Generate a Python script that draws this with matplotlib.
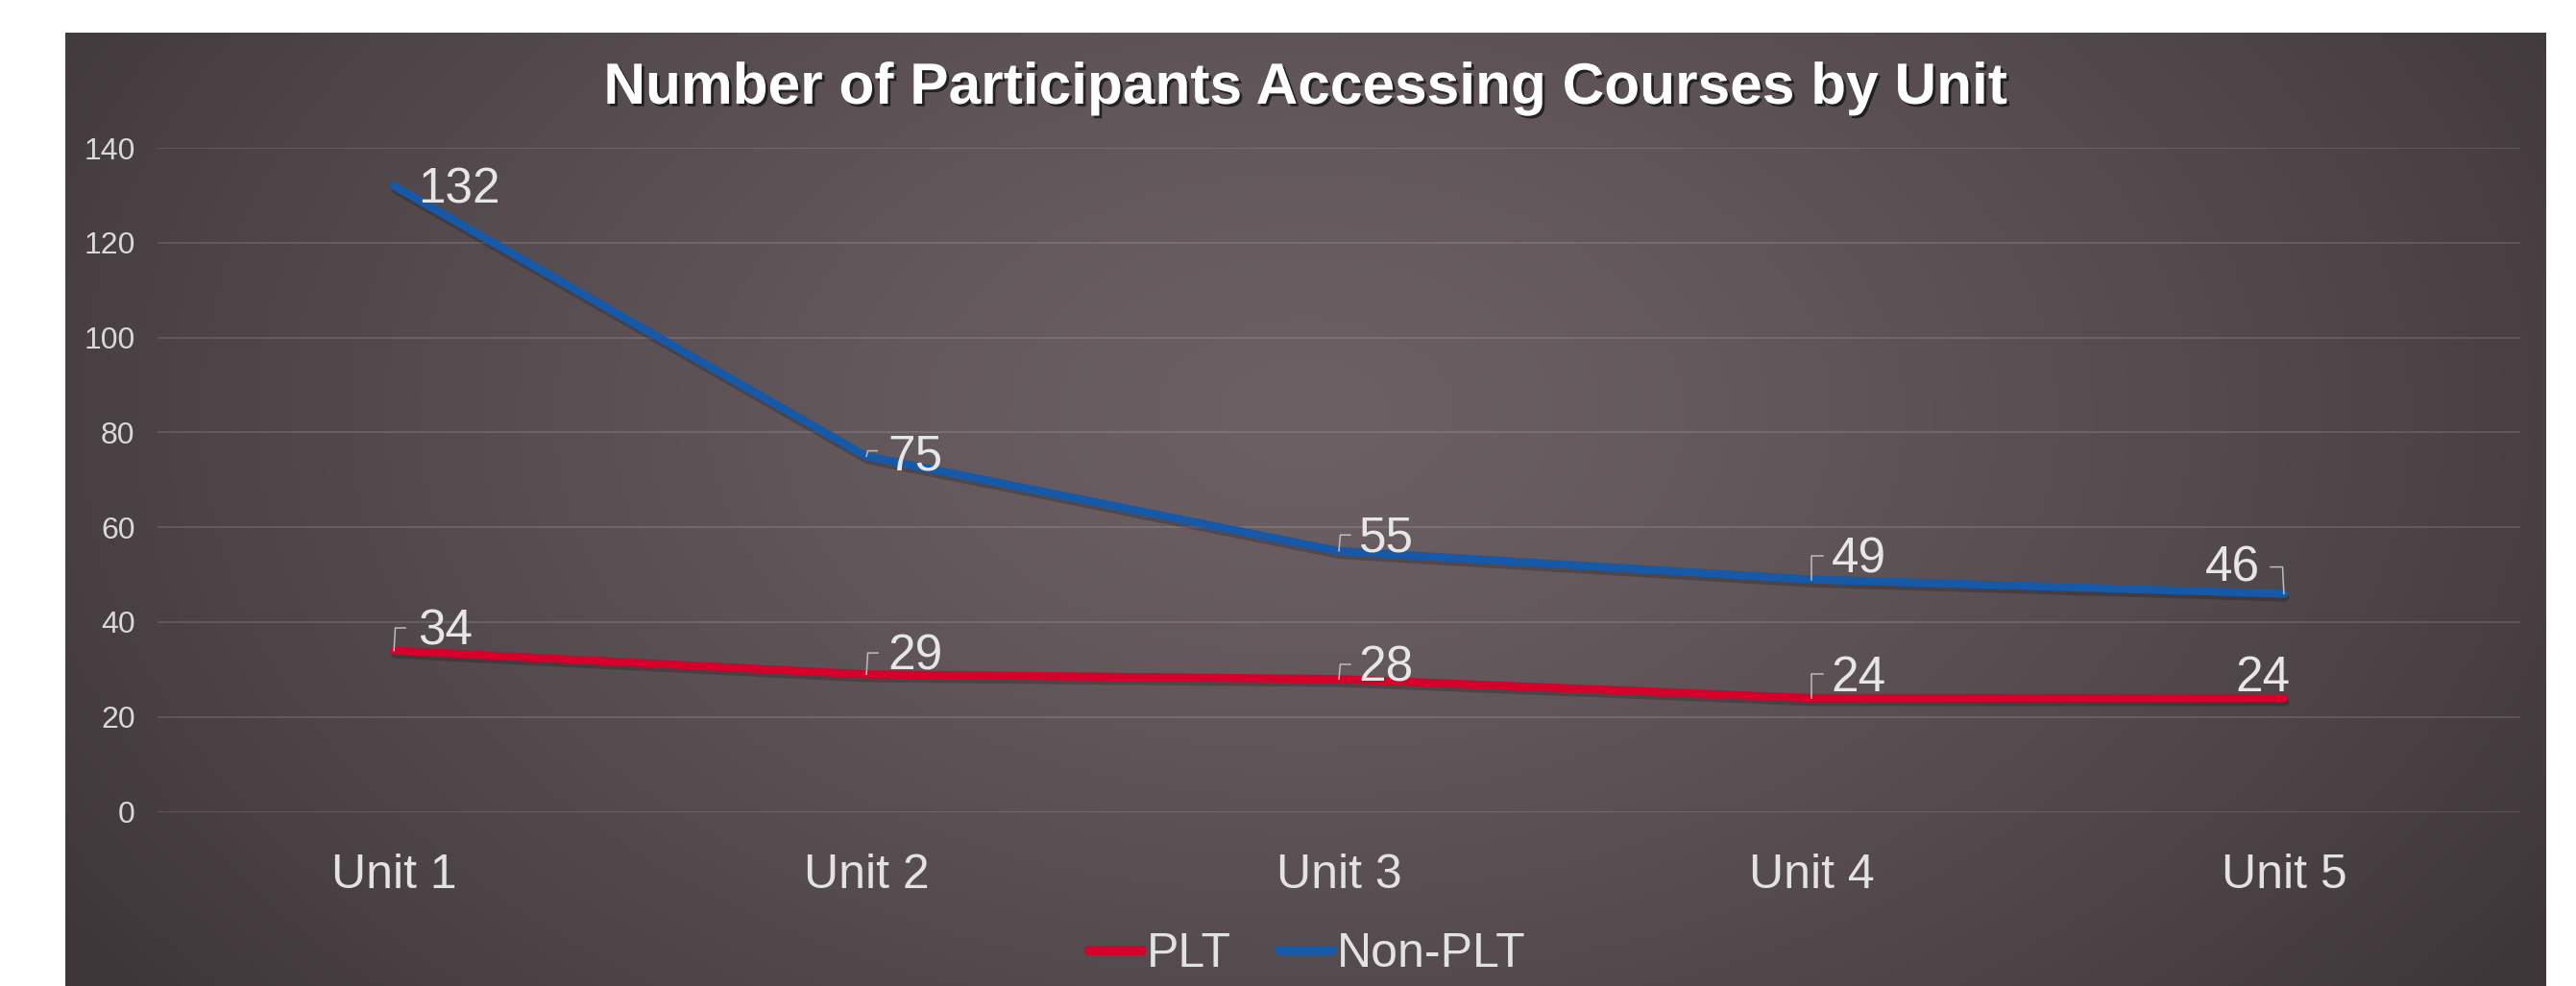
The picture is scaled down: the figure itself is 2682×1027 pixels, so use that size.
import matplotlib
matplotlib.use('Agg')
import matplotlib.pyplot as plt
import matplotlib.patheffects as pe
import matplotlib.transforms as mtransforms
import numpy as np

plt.rcParams['font.family'] = ['Liberation Sans', 'DejaVu Sans']

# data
units = ['Unit 1', 'Unit 2', 'Unit 3', 'Unit 4', 'Unit 5']
plt_vals = [34, 29, 28, 24, 24]
non_plt_vals = [132, 75, 55, 49, 46]
y_ticks = [0, 20, 40, 60, 80, 100, 120, 140]

# label offsets in points (dx, dy, ha) and leader lines (points)
non_plt_lab = [(18, -3, 'left'), (16, -1, 'left'), (15, 9, 'left'), (15, 15, 'left'), (-18, 19, 'right')]
plt_lab = [(18, 14, 'left'), (16, 13, 'left'), (15, 8, 'left'), (15, 15, 'left'), (-16, 15, 'center')]
non_plt_lead = [None, [(0, 0), (1, 4), (8, 4)], [(0, 0), (1, 12), (8.6, 12)],
                [(0, 0), (0, 18), (8.6, 18)], [(0, 0), (-1, 20), (-10, 20)]]
plt_lead = [[(0, 0), (1, 17), (8.6, 17)], [(0, 0), (1, 16), (8.6, 16)],
            [(0, 0), (1, 11), (8.6, 11)], [(0, 0), (0, 18), (8.6, 18)], None]

W, H = 2682, 1027
fig = plt.figure(figsize=(W / 100, H / 100), dpi=100)
fig.patch.set_facecolor('white')

# dark panel with soft radial gradient
bg = fig.add_axes([68 / W, 0, (2651 - 68) / W, (1027 - 34) / H])
u, v = np.meshgrid(np.linspace(0, 1, 400), np.linspace(0, 1, 200))
r = np.sqrt(((u - 0.5) / 0.6) ** 2 + ((v - 0.4) / 1.0) ** 2)
t = np.clip(r, 0, 1) ** 1.3
light = np.array([108, 96, 100]) / 255
dark = np.array([62, 55, 58]) / 255
img = light[None, None, :] * (1 - t[..., None]) + dark[None, None, :] * t[..., None]
bg.imshow(img, aspect='auto', extent=[0, 1, 0, 1], interpolation='bilinear')
bg.axis('off')

ax = fig.add_axes([96 / 1568, 1 - 494 / 600, (1534 - 96) / 1568, (494 - 90) / 600])
ax.patch.set_alpha(0)
for s in ax.spines.values():
    s.set_visible(False)

x = np.arange(len(units))
shadow = [pe.SimpleLineShadow(offset=(1, -3), shadow_color='black', alpha=0.2), pe.Normal()]
ax.plot(x, plt_vals, color='#d6002a', lw=6, solid_capstyle='round', label='PLT',
        path_effects=shadow, zorder=3)
ax.plot(x, non_plt_vals, color='#1659a8', lw=6, solid_capstyle='round', label='Non-PLT',
        path_effects=shadow, zorder=3)

ax.set_xlim(-0.5, len(units) - 0.5)
ax.set_ylim(0, 140)
ax.set_yticks(y_ticks)
ax.set_xticks(x)
ax.set_xticklabels(units)
ax.tick_params(axis='x', length=0, pad=31, labelsize=36, labelcolor='#e2e2e2')
ax.tick_params(axis='y', length=0, pad=17, labelsize=23, labelcolor='#d9d9d9')
ax.grid(axis='y', color='white', alpha=0.12, lw=1.5)
ax.set_axisbelow(True)

pt = mtransforms.Affine2D().scale(1 / 72.)
for vals, labs, leads in [(non_plt_vals, non_plt_lab, non_plt_lead), (plt_vals, plt_lab, plt_lead)]:
    for i, val in enumerate(vals):
        dx, dy, ha = labs[i]
        ax.annotate(str(val), (x[i], val), xytext=(dx, dy), textcoords='offset points',
                    ha=ha, va='center', fontsize=37, color='#e6e6e6', zorder=5)
        if leads[i] is not None:
            tr = pt + fig.dpi_scale_trans + mtransforms.ScaledTranslation(x[i], val, ax.transData)
            lx, ly = zip(*leads[i])
            ax.plot(lx, ly, color='#bdbdbd', lw=1.1, transform=tr, zorder=4, clip_on=False)

fig.text(0.5067, 1 - 54 / 600, 'Number of Participants Accessing Courses by Unit',
         ha='center', va='center', fontsize=43.5, fontweight='bold', color='white',
         path_effects=[pe.SimplePatchShadow(offset=(2, -2), shadow_rgbFace='black', alpha=0.6),
                       pe.Normal()])

leg = fig.legend(loc='center', bbox_to_anchor=(796 / 1568, 1 - 581 / 600), ncol=2,
                 frameon=False, fontsize=36, handlelength=1.1, handletextpad=0.1,
                 columnspacing=1.0, labelcolor='#e2e2e2')
for h in leg.get_lines():
    h.set_path_effects([])
    h.set_linewidth(7)
    h.set_solid_capstyle('round')

fig.savefig('out.png', dpi=100, facecolor='white')
